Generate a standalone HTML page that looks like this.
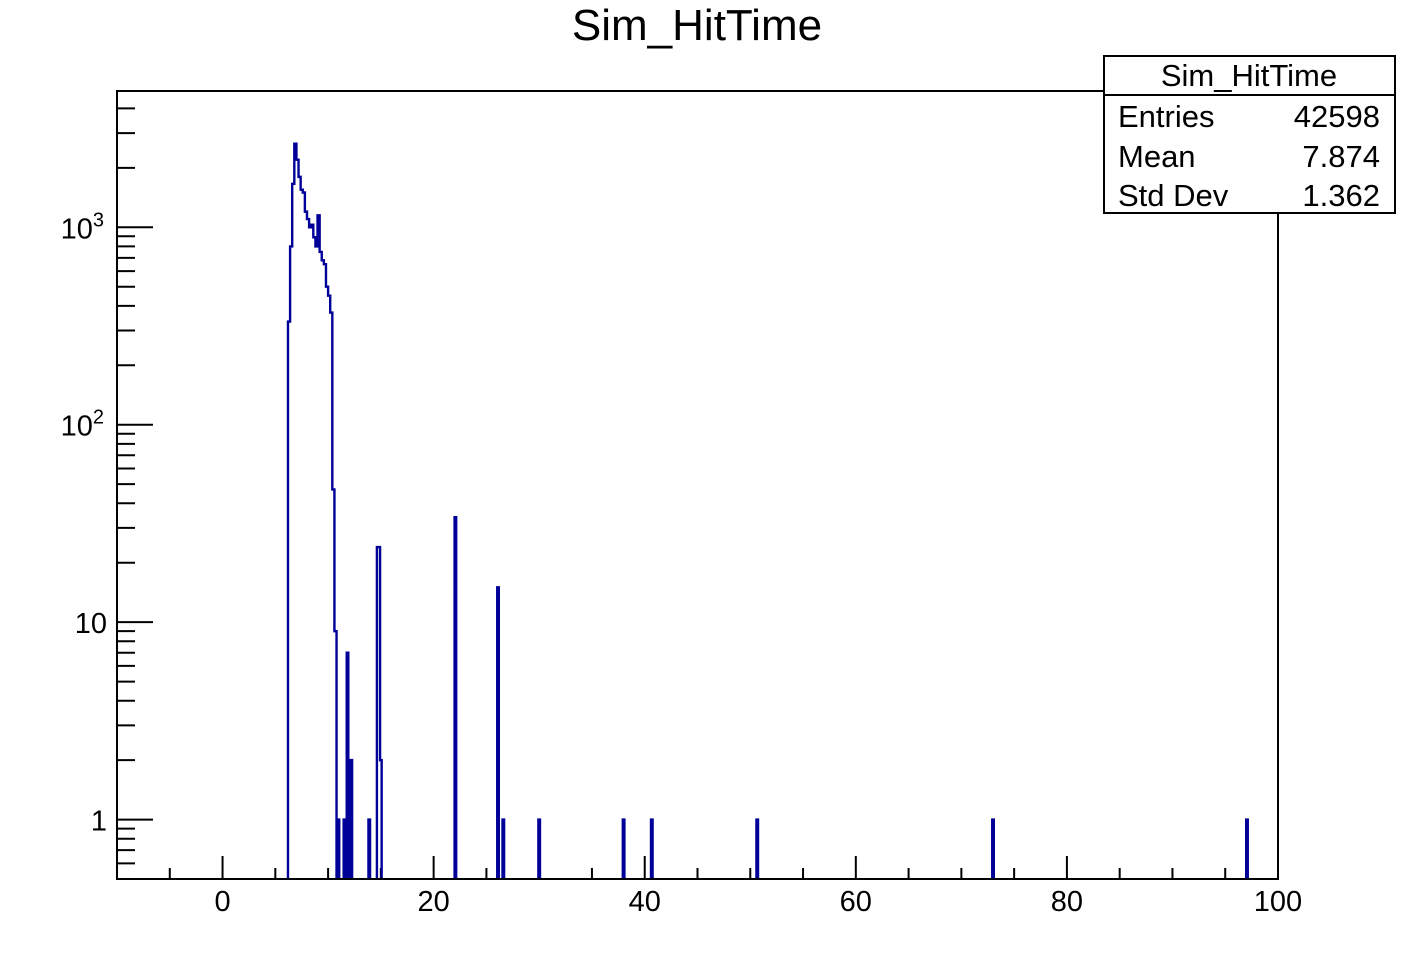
<!DOCTYPE html>
<html><head><meta charset="utf-8"><style>
body{margin:0;background:#fff}
svg text{font-family:"Liberation Sans",sans-serif}
</style></head><body>
<svg id="c" width="1414" height="948" xmlns="http://www.w3.org/2000/svg">
<text x="697" y="40" font-size="44" text-anchor="middle">Sim_HitTime</text>
<g id="axes"></g>
<path id="hist" fill="none" stroke="#000099" stroke-width="2.4"/>
<rect x="117" y="91" width="1161" height="788" fill="none" stroke="#000" stroke-width="2"/>
<g>
<rect x="1104" y="56" width="291" height="157" fill="#fff" stroke="#000" stroke-width="2"/>
<line x1="1104" y1="95" x2="1395" y2="95" stroke="#000" stroke-width="2"/>
<text x="1249" y="86" font-size="31" text-anchor="middle">Sim_HitTime</text>
<text x="1118" y="127" font-size="31">Entries</text><text x="1380" y="127" font-size="31" text-anchor="end">42598</text>
<text x="1118" y="167" font-size="31">Mean</text><text x="1380" y="167" font-size="31" text-anchor="end">7.874</text>
<text x="1118" y="206" font-size="31">Std Dev</text><text x="1380" y="206" font-size="31" text-anchor="end">1.362</text>
</g>
</svg>
<script>
const peakStart = 6.2;
const binWidth = 0.2;
const spikeWidth = 0.15;
const peakCounts = [333,800,1660,2650,2200,1800,1550,1500,1200,1100,1000,1030,890,800,1150,750,680,650,500,450,370,47,9];
const spikeCenters = [10.98,11.55,11.84,12.2,13.9,14.7,14.85,15.0,22.06,26.1,26.6,30.0,38.0,40.67,50.66,73.0,97.06];
const spikeCounts = [1,1,7,2,1,24,24,2,34,15,1,1,1,1,1,1,1];
const xTicksMajor = [0,20,40,60,80,100];
const yDecades = [1,10,100,1000];
const yLabels = ["1","10","10^2","10^3"];

const X0=117,X1=1278,Y0=879,Y1=91,xmin=-10,xmax=100,ymin=0.5,ymax=4900;
const xs=v=>X0+(v-xmin)/(xmax-xmin)*(X1-X0);
const ys=v=>Y0-(Math.log10(v)-Math.log10(ymin))/(Math.log10(ymax)-Math.log10(ymin))*(Y0-Y1);
const NS="http://www.w3.org/2000/svg";
const ax=document.getElementById('axes');
function line(x1,y1,x2,y2,name){const l=document.createElementNS(NS,'line');l.setAttribute('x1',x1);l.setAttribute('y1',y1);l.setAttribute('x2',x2);l.setAttribute('y2',y2);l.setAttribute('stroke','#000');l.setAttribute('stroke-width','2');


ax.appendChild(l);}
function text(x,y,s,anchor,name){const t=document.createElementNS(NS,'text');t.setAttribute('x',x);t.setAttribute('y',y);t.setAttribute('font-size','29');t.setAttribute('text-anchor',anchor);


if(s.includes('^')){const [b,e]=s.split('^');t.textContent=b;const sp=document.createElementNS(NS,'tspan');sp.setAttribute('dy','-12');sp.setAttribute('font-size','20');sp.textContent=e;t.appendChild(sp);}else t.textContent=s;ax.appendChild(t);}
for(let v=-5;v<=100;v+=5){const major=xTicksMajor.includes(v);line(xs(v),Y0,xs(v),Y0-(major?23:11),'x-tick');}
xTicksMajor.forEach(v=>text(xs(v),911,String(v),'middle','x-tick-label'));
yDecades.forEach((d,i)=>{line(X0,ys(d),X0+36,ys(d),'y-tick');text(i>=2?104:107,ys(d)+11,yLabels[i],'end','y-tick-label');});
for(let d=0.1;d<=1000;d*=10){for(let m=2;m<=9;m++){const v=Math.round(d*m*1000)/1000;if(v>=ymin&&v<=ymax)line(X0,ys(v),X0+18,ys(v),'y-minor-tick');}}
let bins=[];
peakCounts.forEach((c,i)=>bins.push([peakStart+i*binWidth,c,binWidth]));
spikeCenters.forEach((c,i)=>bins.push([c-spikeWidth/2,spikeCounts[i],spikeWidth]));
bins.sort((a,b)=>a[0]-b[0]);
let d2='';let runEnd=null;
bins.forEach(([lo,c,w])=>{const x1=xs(lo),x2=xs(lo+w),y=ys(c);
 if(runEnd===null||Math.abs(lo-runEnd)>1e-6){if(runEnd!==null)d2+=`L${xs(runEnd)},${Y0}`;d2+=`M${x1},${Y0}`;}
 d2+=`L${x1},${y}L${x2},${y}`;runEnd=lo+w;});
d2+=`L${xs(runEnd)},${Y0}`;
document.getElementById('hist').setAttribute('d',d2);
</script>
</body></html>
